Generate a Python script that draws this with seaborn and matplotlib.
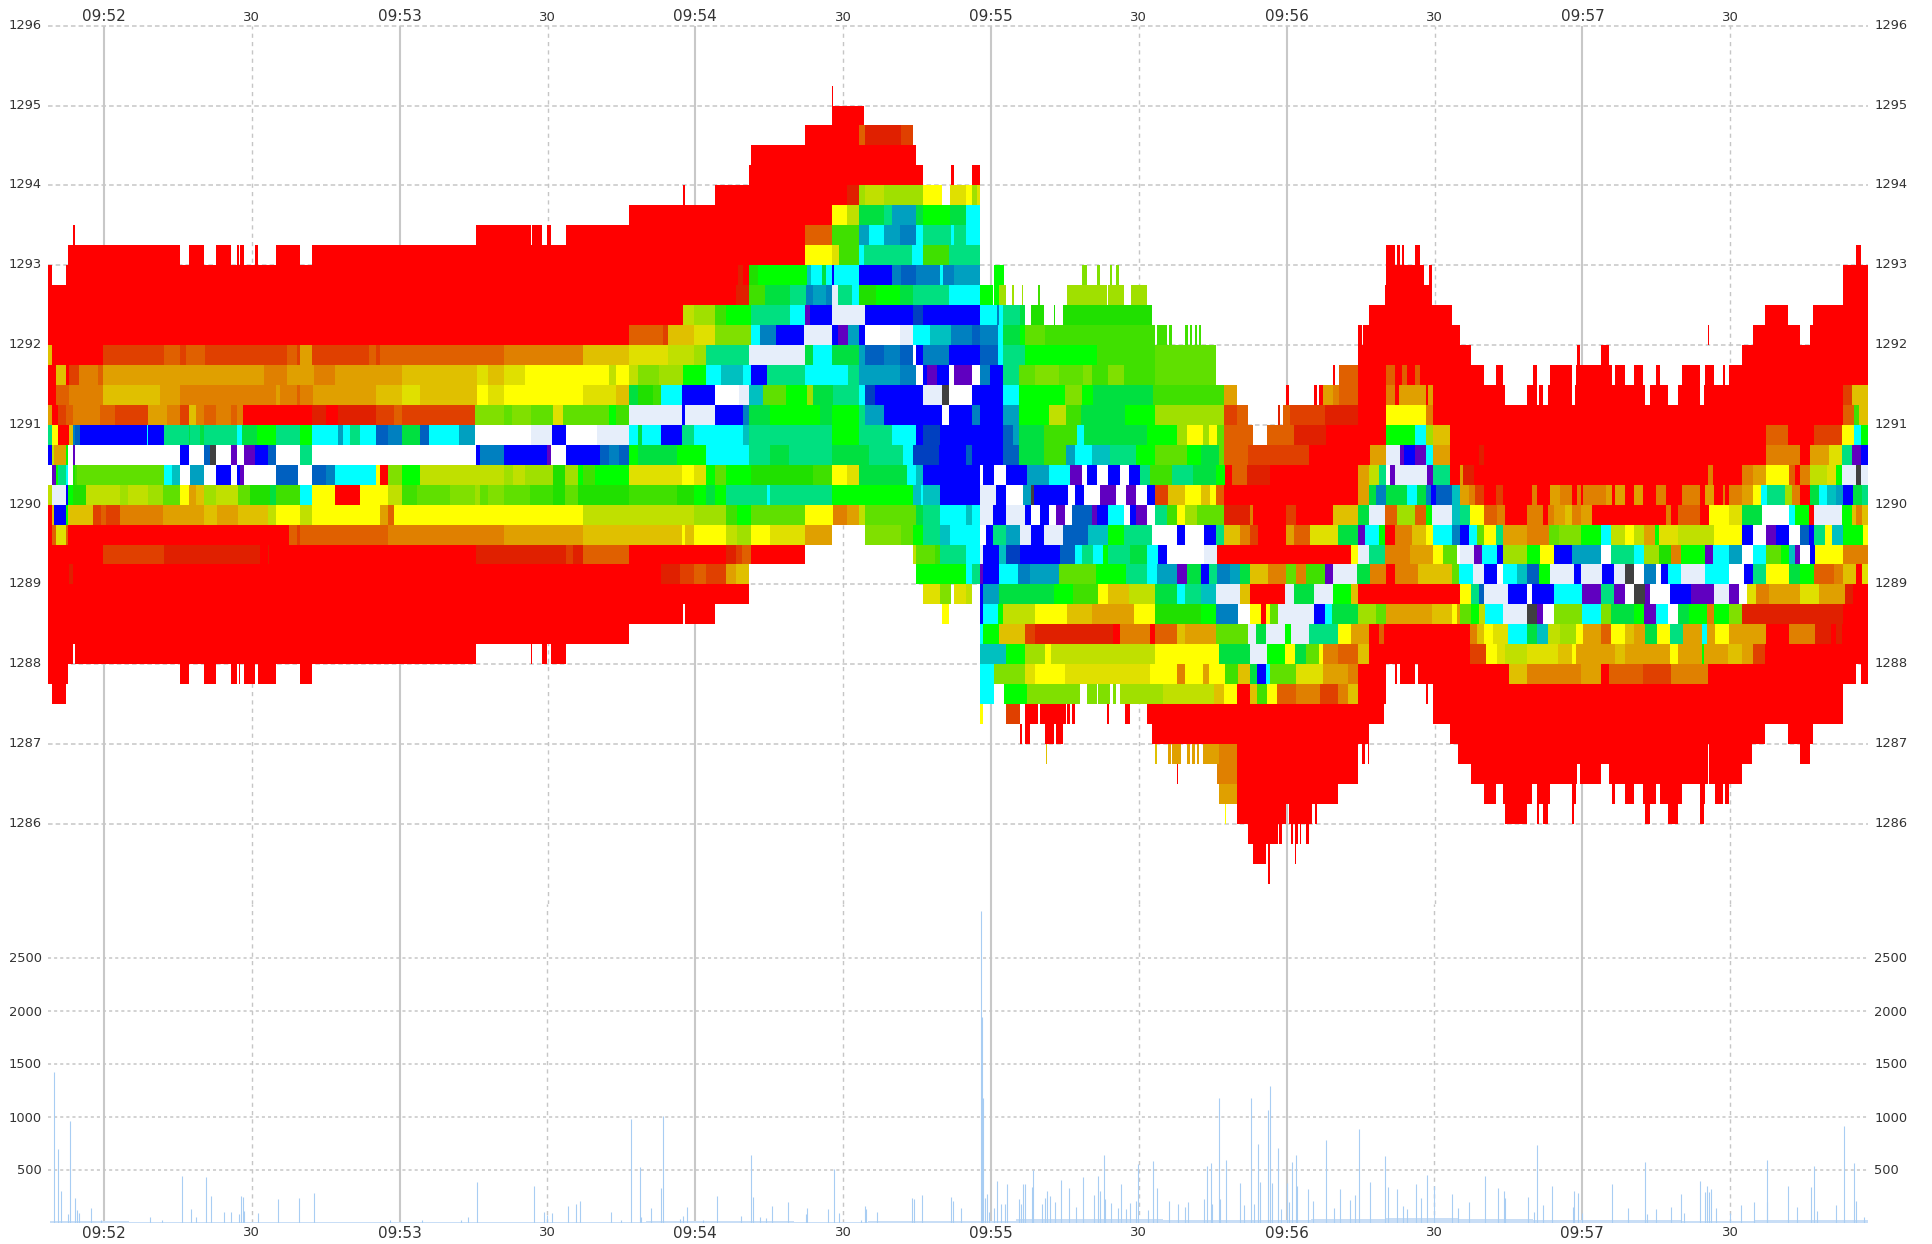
import numpy as np
import matplotlib
matplotlib.use("Agg")
import matplotlib.pyplot as plt
from matplotlib.colors import ListedColormap
from matplotlib.transforms import ScaledTranslation
import seaborn as sns

sns.set_theme(style="white")
plt.rcParams['font.family'] = ['DejaVu Sans']

# Time is in seconds after 09:52:00. Book data are run lengths: a code and the tick at which the run ends.
TICKS_PER_SECOND = 14.78
T_START, T_END, CELL_SECONDS = -11.3, 358.0, 0.25
PRICE_TOP, PRICE_BOTTOM, PRICE_STEP = 1296.0, 1285.0, 0.25

palette = {
 'r':'#ff0000','d':'#e02000','e':'#e04000','o':'#e06000','O':'#e08000','a':'#e0a000','g':'#e0c000',
 'h':'#e0e000','y':'#ffff00','l':'#c0e000','L':'#a0e000','m':'#80e000','n':'#60e000','p':'#40e000',
 'q':'#20e000','G':'#00ff00','s':'#00e040','t':'#00e080','c':'#00ffff','u':'#00c0c0','v':'#00a0c0',
 'w':'#0080c0','x':'#0060c0','z':'#0040c0','B':'#0000ff','P':'#6000c0','W':'#ffffff','f':'#e6eefa','k':'#404040'}

book_a_origin, book_a_start = -21.1, 145
book_a = {
1293.25:"_218 r226 _1428 r1440",
1293.0:"_204 r540 _566 r610 _648 r692 _710 r718 _722 r732 _765 r772 _828 r898 _935 r1440",
1292.75:"r156 _197 r1440",
1292.5:"r1440",1292.25:"r1440",1292.0:"r1440",
1291.75:"g156 r307 e492 o540 e560 o615 e648 e862 o892 e898 a935 e1105 o1128 e1138 o1440",
1291.5:"r167 g197 r207 e237 O292 o307 a792 O862 a942 O1005 a1205 g1430 h1440",
1291.25:"r167 o207 O307 g482 a540 O685 O828 a838 O892 o900 O940 a1128 g1205 h1260 g1430 y1440",
1291.0:"a156 r175 e197 o220 O300 o345 e445 a500 O540 e565 g588 O610 o648 O692 o710 O727 r935 d975 r1013 d1128 e1183 o1205 e1425 m1440",
1290.75:"t156 y175 r207 g218 w226 x240 B440 c444 B492 t565 s570 t600 s610 t710 c725 s770 G828 t897 G937 c1013 v1028 c1050 t1080 c1128 x1165 w1205 s1260 x1285 c1375 v1425 W1440",
1290.5:"B156 l165 a197 G204 W218 P226 W540 B566 W610 x630 k648 W692 P710 W732 P765 B803 x828 W897 t935 W1428 B1440",
1290.25:"W156 P167 G175 t197 c204 W218 q226 p230 n492 c515 u540 W568 v610 W648 B692 W712 B720 P732 W828 x895 W935 x975 w1005 c1128 y1138 r1165 m1205 G1260 l1440",
1290.0:"l156 f197 B204 G220 q260 l360 L385 l445 L490 n540 y566 a587 g612 L648 l715 n750 q810 s828 p897 c935 y1005 r1080 y1165 l1205 p1250 n1350 m1425 L1440",
1289.75:"r156 g165 B197 G204 g277 e305 o318 e360 O490 a548 a612 g650 a715 g803 l828 y898 l935 y1140 a1165 o1183 y1440",
1289.5:"r156 o167 h197 o204 r865 o892 e900 o1165 O1440",
1289.25:"r307 e492 d780 r803 d808 r1428 d1440",
1289.0:"r207 d218 r1440",
1288.75:"r1440",1288.5:"r1440",1288.25:"r1440",
1288.0:"r218 _226 r1428 _1440",
1287.75:"r204 _540 r566 _610 r648 _692 r710 _716 r722 _732 r765 _772 r828 _898 r935 _1440",
1287.5:"_156 r197 _1440",
}

book_b_origin, book_b_start = 76.3, 0
book_b = {
1295.0:"_1055 r1059",
1294.75:"_1055 r1153",
1294.5:"_973 r1136 o1155 d1262 e1298",
1294.25:"_811 r1305",
1294.0:"_807 r1328 _1413 r1420 _1475 r1498",
1293.75:"_607 r614 _703 r1098 d1136 L1155 l1210 L1328 y1383 _1410 h1457 y1475 L1490 h1500",
1293.5:"_445 r1055 y1098 l1136 s1210 t1235 v1305 s1330 G1410 s1457 c1500",
1293.25:"r155 _158 r186 _202 r212 _256 r973 o1055 p1136 v1165 c1210 v1258 w1305 c1328 t1413 c1420 t1457 c1500",
1293.0:"r973 y1055 h1078 p1136 c1150 t1295 c1328 p1405 t1500",
1292.75:"r775 d790 r807 q835 G983 u992 c1025 s1035 c1055 B1062 c1136 B1236 w1262 x1305 w1380 c1388 w1420 v1500",
1292.5:"r767 d807 p855 s930 t978 w1000 v1035 w1055 f1075 t1113 c1136 q1190 G1258 s1298 t1405 c1500",
1292.25:"r607 l640 L703 p737 G810 t928 c975 P990 B1055 f1155 B1298 z1328 B1500",
1292.0:"r445 o548 e563 g640 h703 m810 c840 w890 B972 f1055 B1075 P1105 v1136 B1155 W1260 f1298 c1350 u1412 w1475 x1500",
1291.75:"o72 O308 g445 h565 l640 L678 t808 f975 s1000 c1055 s1136 v1155 x1210 w1258 x1298 W1305 B1328 w1405 B1500",
1291.5:"h24 g72 h135 y385 l408 y445 l475 m537 L607 G678 c722 u790 c810 B858 t975 c1105 t1136 v1260 w1305 W1328 B1340 P1368 B1408 W1420 P1475 W1498 B1500",
1291.25:"y24 h72 y308 h408 g445 s475 q520 p540 c605 B703 W780 f808 u850 n920 G980 L1000 s1060 t1136 c1155 z1185 B1328 f1385 k1405 W1475 B1500",
1291.0:"m72 n95 m155 n185 n220 h250 n295 n385 G408 p445 f605 B615 f703 B790 w808 s870 G1017 s1055 G1136 t1155 v1210 B1385 W1408 B1475 w1500",
1290.75:"W155 f215 B256 W350 f445 c475 s485 c540 B605 t640 c790 u808 t1055 G1136 t1235 c1305 B1328 z1380 B1500",
1290.5:"w72 B200 P212 W256 B360 x385 w415 x445 G475 s590 G678 c807 t870 s925 t1055 s1165 t1268 c1298 z1375 B1458 x1475 B1500",
1290.25:"l72 L100 l135 L220 q255 L295 G310 p345 G445 h605 y640 h678 G703 n737 G810 q1000 p1055 y1098 h1136 s1280 c1305 u1328 B1500",
1290.0:"n25 m72 n150 p220 q255 n295 q445 p590 q640 G680 s703 G737 t858 c870 t1055 G1300 u1320 c1330 u1380 B1500",
1289.75:"y308 l640 L737 p770 G812 n973 y1058 O1098 a1136 l1155 n1305 s1330 t1382 c1458 u1475 c1500",
1289.5:"O72 a308 g605 y615 g640 y737 l770 L810 y870 h973 a1055 _1155 m1262 n1298 G1328 t1382 u1410 c1500",
1289.25:"d256 e280 d308 o445 r737 d767 e787 o810 r973 _1300 l1305 n1365 p1382 t1458 c1500",
1289.0:"r540 d600 e640 o678 e737 a767 g808 _1305 G1458 c1475 t1500",
1288.75:"r807 _1328 h1380 m1412 _1420 h1458 l1475",
1288.5:"r607 _614 r703 _1383 y1408",
1288.25:"r445",
1288.0:"_155 r158 _186 r202 _212 r256",
}

book_c_origin, book_c_start = 173.7, 60
book_c = {
1293.0:"_1280 r1305 _1312 r1318 _1325 r1330 _1365 r1378",
1292.75:"_105 G132 _365 m380 _410 m422 _450 m455 _468 m478 _1278 r1392 _1408 r1417",
1292.5:"G100 _105 G118 L138 _157 L162 _185 L188 _232 p242 _320 L345 L438 _445 L493 _515 L527 _530 L560 _1275 r1417",
1292.25:"c110 w118 c130 t182 s195 _213 q253 _280 q286 _312 q575 _1228 r1473",
1292.0:"w115 c130 s180 G195 n255 p585 _592 p622 _628 p635 _678 p682 _690 p695 _705 p710 _718 p726 _1195 r1203 _1210 r1225 _1228 r1500",
1291.75:"x115 c130 t195 G410 p585 n770 _1192 r1500",
1291.5:"w88 B130 t178 n225 m295 n368 m395 p445 m490 p585 n770 _1120 r1125 _1137 o1192 r1280 o1305 r1325 o1340 r1365 o1380 r1500",
1291.25:"B130 c178 G315 m365 G400 s580 p790 a832 _978 r988 _1060 r1070 _1075 r1090 a1118 O1137 o1192 r1280 O1305 r1315 a1395 r1405 a1418 r1500",
1291.0:"B130 v178 G265 l318 p362 s495 G585 L790 e833 o865 _955 d960 _968 o990 e1040 e1092 d1192 r1280 y1395 O1420 r1500",
1290.75:"B130 x158 v178 s250 p350 c375 s560 G650 L680 y728 L748 y772 n790 o878 _920 o1000 d1098 r1280 G1365 c1395 L1420 g1470 r1500",
1290.5:"B130 x178 s250 p318 v345 c395 u450 t530 G585 n680 G725 s775 n790 o865 e1045 r1230 a1280 f1318 P1330 B1365 P1395 c1418 a1470 r1500",
1290.25:"W72 B105 W138 B198 v265 c330 P365 W380 B410 W445 B480 W505 B540 t570 p635 t700 s770 G795 r815 o860 d930 r1195 a1225 l1255 t1280 W1290 P1305 f1400 P1420 t1470 r1500",
1290.0:"f108 B135 W190 v215 k222 B325 W345 B375 W420 P470 W500 P530 W560 B585 e625 g675 y725 g750 y770 o790 r1195 a1225 s1250 w1280 s1340 c1370 s1395 w1410 B1425 x1475 u1500",
1289.75:"f100 B135 f195 B215 W240 B265 W290 P315 W335 x395 P410 B445 c490 W510 B530 P560 W585 t620 p650 y675 L710 n790 d870 O878 r978 e1010 r1120 g1195 s1225 f1275 o1310 L1365 o1395 G1415 f1475 u1500",
1289.5:"W78 B98 t135 v180 f215 B250 f310 x385 u445 G490 t575 W650 B678 W730 B770 t790 g840 O868 e895 r978 a1000 o1050 h1135 s1195 P1215 c1255 G1275 r1305 O1355 g1395 y1418 c1475 w1500",
1289.25:"f70 B118 u135 z180 B300 x345 c365 t400 c430 G445 t510 s560 c595 B622 W730 f772 r1170 y1195 f1228 t1275 O1350 a1420 y1450 n1490 W1500",
1289.0:"P72 B118 c172 w212 v295 n405 G500 t560 c590 v650 P680 s725 B748 t772 w810 v840 s868 g925 O980 n1010 O1040 p1095 P1120 f1190 s1230 O1280 r1305 O1375 g1475 n1495 c1500",
1288.75:"B72 v118 s280 G340 p415 y445 g505 l585 s650 c675 t725 u770 f838 g868 r975 f1000 s1060 f1120 G1170 g1195 r1500",
1288.5:"B72 c115 G130 l225 y320 g395 a520 y585 q725 G770 w835 W868 y900 r918 y930 n955 f1060 B1092 c1115 s1195 L1250 n1280 a1415 g1475 y1490 a1500",
1288.25:"c72 G118 g195 e225 d460 r480 O570 r585 o650 g675 a770 n865 f885 s915 f975 G995 f1045 t1135 y1170 a1228 r1255 o1270 r1500",
1288.0:"u135 G195 L255 y275 l585 y775 s870 f920 G975 y1005 s1040 n1075 y1090 O1135 o1195 g1225 r1500",
1287.75:"c105 m195 h225 y315 h570 y650 O678 y728 a748 y795 p835 g868 s890 B918 c930 n1010 h1090 a1165 O1195 r1280 _1305 r1312 _1320 r1330 _1332 r1365 _1375 r1500",
1287.5:"c105 _132 G200 m360 _380 m410 _415 m450 _458 m468 _480 L610 l760 g790 y833 r868 g890 p920 y950 o1010 O1080 e1135 O1165 g1192 r1278 _1395 r1405 _1418 r1500",
1287.25:"y72 _135 e182 _197 r232 _242 r318 _322 r328 _335 r345 _438 r447 _495 r510 _528 r530 _560 r1272 _1418 r1500",
1287.0:"_180 r185 _195 r212 _255 r280 _288 r312 _575 r1228 _1472 r1500",
1286.75:"_258 g261 _585 g592 _625 a632 _635 a660 _680 a690 _695 a705 _710 a716 _728 a775 O833 r1195 _1205 r1215 _1222 r1228 _1492 r1500",
1286.5:"_650 r653 _772 O833 r1192",
1286.25:"_775 a833 r1122 _1125 r1135",
1286.0:"_795 y798 _833 r978 _988 r1058 _1065 r1072",
1285.75:"_866 r955 _958 r965 _995 r998 _1005 r1012 _1020 r1025 _1040 r1045",
1285.5:"_878 r918 _925 r930 _1005 r1008",
1285.25:"_925 r930",
}

book_d_origin, book_d_start = 269.5, 84
book_d = {
1293.0:"_1272 r1285",
1292.75:"_1232 r1308",
1292.5:"_1232 r1308",
1292.25:"_998 r1068 _1142 r1308",
1292.0:"_828 r832 _962 r1105 _1133 r1308",
1291.75:"r118 _120 r122 _437 r443 _507 r533 _932 r1308",
1291.5:"r155 _193 r212 _302 r312 _355 r422 _432 r537 _548 r580 _607 r632 _670 r682 _750 r770 _773 r803 _818 r845 _870 r880 _888 r1308",
1291.25:"r218 _282 r312 _320 r330 _348 r422 _427 r637 _652 r710 _740 r803 _815 r1232 e1260 g1308",
1291.0:"r1232 o1265 p1282 g1308",
1290.75:"r1002 o1068 r1143 e1230 y1265 c1285 G1308",
1290.5:"o85 r138 d155 r1000 O1105 r1132 a1188 h1230 t1260 P1285 B1308",
1290.25:"a90 d125 r828 O840 r932 O965 a1002 y1070 o1090 r1105 O1132 l1185 h1210 G1230 f1270 k1285 f1308",
1290.0:"a110 O130 e155 r192 e212 r300 O312 r355 a385 O420 r435 O448 r455 O520 a537 r548 a580 r607 a632 r670 O702 r750 O803 r820 a845 r870 O880 r888 O932 a965 y985 c1005 t1060 L1080 O1105 r1132 s1160 c1185 u1210 v1232 B1262 s1288 t1308",
1289.75:"t112 y155 o195 O218 r282 O330 r348 O365 a400 g420 O445 a478 r702 O715 r740 o805 r830 y890 h930 s990 W1070 c1090 G1130 r1145 f1230 G1260 g1272 O1290 g1308",
1289.5:"B110 c135 n155 y192 t212 a285 O350 n380 m445 G505 c535 l580 y605 l635 a668 G680 h740 l845 y932 B962 W1000 P1030 B1070 W1105 x1130 B1145 t1178 y1200 u1232 G1292 y1308",
1289.25:"f125 P150 c195 B215 L285 G325 y365 B420 v505 W535 t605 c635 L680 q715 O745 G820 P842 c890 v932 W965 c1000 n1045 G1070 u1090 P1105 W1135 B1150 y1232 O1308",
1289.0:"c120 f155 B195 W215 c255 u285 x320 G355 f425 B445 f510 B545 f580 k605 W635 w670 W685 B710 c745 f820 c890 W935 B965 t1000 y1070 s1105 G1145 o1205 O1232 g1272 r1287 h1308",
1288.75:"y118 t138 x155 f230 B285 W300 B365 c450 P507 t545 P580 W607 k637 P655 W712 B750 B775 P845 f890 P920 W945 h970 O1010 a1105 h1160 a1238 d1262 r1308",
1288.5:"n118 G138 l158 c215 f285 k315 P330 W365 m450 c507 m535 s605 G635 P670 c710 W740 s770 G825 O845 G890 m932 d1232 r1308",
1288.25:"r115 O135 g155 y185 h230 c285 s312 u345 l385 L430 y455 a507 o535 y580 g607 a637 s675 y712 t752 a808 c822 a850 y890 a1000 r1070 O1150 d1197 r1210 d1230 r1308",
1288.0:"r115 e160 y195 h218 l282 h375 g422 y432 a550 g580 a712 y740 a808 G815 a885 g932 a962 e998 r1308",
1287.75:"r232 g282 O445 a507 r533 o630 e716 O828 r1272 _1285 r1308",
1287.5:"r1232",
1287.25:"r1232",
1287.0:"r998 _1068 r1142",
1286.75:"r828 _832 r960 _1105 r1132",
1286.5:"_118 r437 _443 r507 _533 r828 _832 r932",
1286.25:"_155 r193 _212 r300 _312 r355 _422 r432 _537 r548 _580 r607 _632 r670 _682 r750 _770 r773 _803 r818 _848 r870 _880 r888",
1286.0:"_218 r282 _312 r320 _330 r348 _422 r425 _637 r652 _710 r740 _803 r815",
}

# Traded volume: time in eighths of a second from each origin, and size.
VOL_TICKS_PER_SECOND = 8.0
vol_a_origin = -21.0
vol_a_ticks = [87,93,99,109,113,121,124,127,147,163,243,263,295,309,317,333,342,363,375,388,390,393,395,418,451,485,509,633,685,747,759,774,866,883,888,896,921,935,941,991,1007,1023,1039,1040,1056,1073,1076,1103,1108,1115,1140,1163,1203,1219,1221,1233,1243,1252,1278,1307,1310,1343,1353,1362,1397,1404,1406,1423]
vol_a_sizes = [1420,695,300,76,953,227,117,92,133,28,54,28,440,123,54,426,252,100,100,80,250,237,110,92,218,227,275,28,22,28,54,379,347,98,70,92,158,174,205,100,28,976,521,54,133,322,1007,32,63,145,28,252,66,638,240,54,44,158,193,80,133,123,508,88,22,158,123,98]
vol_b_origin = 174.95
vol_b_ticks = [-87,-84,-72,-24,-21,-8,24,26,28,31,34,38,46,50,56,64,66,86,90,92,95,107,109,123,129,131,137,144,154,167,178,190,208,215,217,224,226,236,246,252,260,267,276,280,296,304,310,330,344,356,360,386,392,397,400,410,412,422,444,452,462,467,474,478,491,494,497,507,512,521,525,530,535,538,556,563,584,598,607,624,632,638,656,681,685,699,710,716,731,738,748,759,789,798,817,843,864,873,875,912,922,927,936,952,985,987,993,1000,1048,1074,1102,1105,1120,1145,1160,1166,1192,1199,1203,1206,1209,1217,1240,1259,1280,1300,1301,1335,1349,1372,1377,1382,1412,1425,1442,1445,1458]
vol_b_sizes = [227,218,262,240,205,133,2936,1940,1175,227,265,100,133,391,174,174,360,218,174,366,360,331,496,174,227,297,250,193,404,322,148,426,262,439,300,638,218,183,136,360,123,183,205,552,114,578,322,205,174,148,196,218,534,559,174,1175,218,590,369,164,1175,174,742,382,1058,1291,369,707,129,369,189,571,638,344,313,205,780,136,313,208,256,884,379,628,331,313,158,123,360,230,451,347,268,136,193,439,325,300,227,240,101,732,161,347,148,300,275,85,360,136,568,79,123,145,268,92,395,287,347,287,313,133,85,161,196,590,193,347,148,331,534,110,161,906,559,205,54]
base_times = [-11,5,20,35,50,65,80,95,110,125,140,155,170,185,200,215,230,245,260,275,290,305,320,335,350,358]
base_sizes = [14,7,6,8,5,4,5,9,10,12,9,11,12,30,32,26,24,34,40,34,26,22,18,20,22,22]

minute_times = [0,60,120,180,240,300]
minute_labels = ["09:52","09:53","09:54","09:55","09:56","09:57"]
half_times = [30,90,150,210,270,330]
half_labels = ["30"]*6
price_ticks = [1296,1295,1294,1293,1292,1291,1290,1289,1288,1287,1286]
volume_ticks = [500,1000,1500,2000,2500]

codes = list(palette)
n_cols = int(round((T_END-T_START)/CELL_SECONDS))
n_rows = int(round((PRICE_TOP-PRICE_BOTTOM)/PRICE_STEP))
book = np.full((n_rows, n_cols), np.nan)

def to_col(t):
    return int(np.clip(round((t-T_START)/CELL_SECONDS), 0, n_cols))

def fill(rows, origin, start):
    for price, text in rows.items():
        r = int(round((PRICE_TOP-price)/PRICE_STEP))-1
        prev = start
        for tok in text.split():
            end = float(tok[1:])
            if end <= prev:
                continue
            if tok[0] != '_':
                book[r, to_col(origin+prev/TICKS_PER_SECOND):to_col(origin+end/TICKS_PER_SECOND)] = codes.index(tok[0])
            prev = end

fill(book_a, book_a_origin, book_a_start)
fill(book_b, book_b_origin, book_b_start)
fill(book_c, book_c_origin, book_c_start)
fill(book_d, book_d_origin, book_d_start)

W, H = 1932, 1244
X0, X1 = 48.3, 1868.0
Y_TOP, Y_SPLIT, Y_BOT = 25.7, 903.7, 1222.5
fig = plt.figure(figsize=(W/100, H/100), dpi=100, facecolor='white')
ax = fig.add_axes([X0/W, 1-Y_SPLIT/H, (X1-X0)/W, (Y_SPLIT-Y_TOP)/H])
ax2 = fig.add_axes([X0/W, 1-Y_BOT/H, (X1-X0)/W, (Y_BOT-Y_SPLIT)/H])

sns.heatmap(book, ax=ax, cmap=ListedColormap([palette[c] for c in codes]), vmin=-0.5, vmax=len(codes)-0.5,
            cbar=False, xticklabels=False, yticklabels=False)
ax.collections[0].set_zorder(3)

GRID = '#c6c6c6'
TEXT = '#333333'
def col_pos(t):
    return (t-T_START)/CELL_SECONDS
def row_pos(p):
    return (PRICE_TOP-p)/PRICE_STEP

for p in price_ticks:
    ax.axhline(row_pos(p), color=GRID, lw=1.1, dashes=(3, 2), zorder=1, clip_on=False)
for t in minute_times:
    ax.axvline(col_pos(t), color='#c8c8c8', lw=1.5, zorder=1)
    ax2.axvline(t, color='#c8c8c8', lw=1.5, zorder=1)
for t in half_times:
    ax.axvline(col_pos(t), color=GRID, lw=1.0, dashes=(3, 3), zorder=1)
    ax2.axvline(t, color=GRID, lw=1.0, dashes=(3, 3), zorder=1)

ax.set_yticks([row_pos(p) for p in price_ticks])
ax.set_yticklabels([str(p) for p in price_ticks])
ax.set_xticks([col_pos(t) for t in minute_times+half_times])
ax.set_xticklabels(minute_labels+half_labels)
ax.tick_params(axis='y', left=False, right=False, labelleft=True, labelright=True, length=0, pad=4.5, labelsize=9.4, labelcolor=TEXT, labelrotation=0)
ax.tick_params(axis='x', bottom=False, top=False, labelbottom=False, labeltop=True, length=0, pad=1.5, labelsize=11, labelcolor=TEXT)
for lab in ax.get_xticklabels()[6:]:
    lab.set_fontsize(9.5)

# volume panel
vol_times = [vol_a_origin+v/VOL_TICKS_PER_SECOND for v in vol_a_ticks]+[vol_b_origin+v/VOL_TICKS_PER_SECOND for v in vol_b_ticks]
vol_sizes = vol_a_sizes+vol_b_sizes
ax2.fill_between(base_times, 0, base_sizes, step='post', color='#c9def6', lw=0, zorder=2)
ax2.vlines(vol_times, 0, vol_sizes, color='#a8cdf3', lw=0.8, zorder=3)
ax2.set_xlim(T_START, T_END)
ax2.set_ylim(0, (Y_BOT-Y_SPLIT)/53*500)
for v in volume_ticks:
    ax2.axhline(v, color=GRID, lw=1.1, dashes=(2, 2), zorder=1)
ax2.set_yticks(volume_ticks)
ax2.set_yticklabels([str(v) for v in volume_ticks])
ax2.set_xticks(minute_times+half_times)
ax2.set_xticklabels(minute_labels+half_labels)
ax2.tick_params(axis='y', left=False, right=False, labelleft=True, labelright=True, length=0, pad=4.5, labelsize=9.4, labelcolor=TEXT)
ax2.tick_params(axis='x', bottom=False, top=False, labelbottom=True, length=0, pad=2.5, labelsize=11, labelcolor=TEXT)
for lab in ax2.get_xticklabels()[6:]:
    lab.set_fontsize(9.5)

# price labels sit slightly above their gridlines
nudge = ScaledTranslation(0, 2/100, fig.dpi_scale_trans)
for tick in ax.yaxis.get_major_ticks():
    for lab in (tick.label1, tick.label2):
        lab.set_transform(lab.get_transform()+nudge)

for a in (ax, ax2):
    a.set_xlabel('')
    a.set_ylabel('')
    a.patch.set_alpha(0)
    for s in a.spines.values():
        s.set_visible(False)

fig.savefig("out.png", dpi=100, facecolor='white')
